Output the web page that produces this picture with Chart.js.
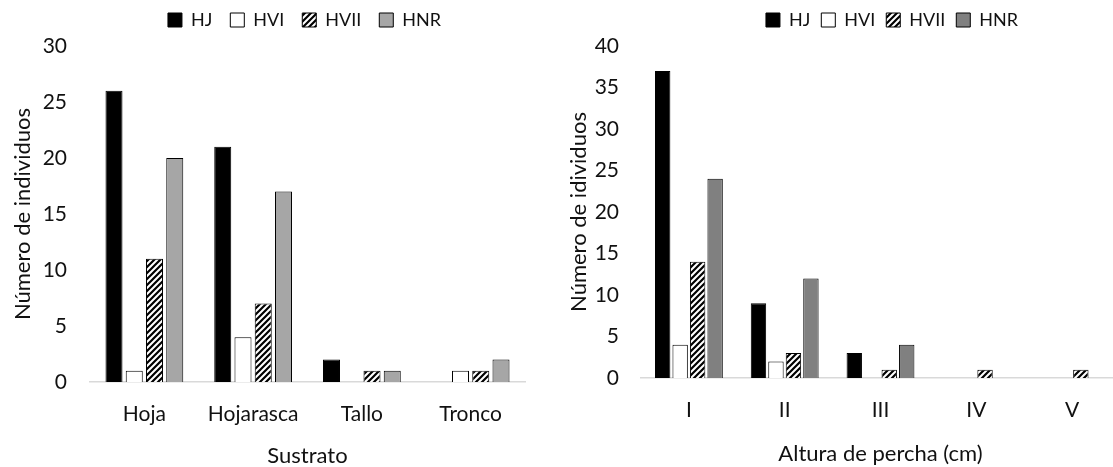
<!DOCTYPE html>
<html>
<head>
<meta charset="utf-8">
<script src="https://cdn.jsdelivr.net/npm/chart.js@4"></script>
<style>
  html, body { margin: 0; padding: 0; background: #fff; overflow: hidden; }
  body { width: 1113px; height: 467px; position: relative; }
  .box { position: absolute; top: 0; height: 467px; }
  #c1 { left: 0; width: 556px; }
  #c2 { left: 556px; width: 570px; }
</style>
</head>
<body>
<div class="box" id="c1"><canvas id="g1"></canvas></div>
<div class="box" id="c2"><canvas id="g2"></canvas></div>
<script>
// datos
const series = ['HJ', 'HVI', 'HVII', 'HNR'];

const sustrato = ['Hoja', 'Hojarasca', 'Tallo', 'Tronco'];
const hjSustrato = [26, 21, 2, 0];
const hviSustrato = [1, 4, 0, 1];
const hviiSustrato = [11, 7, 1, 1];
const hnrSustrato = [20, 17, 1, 2];
const ticksSustrato = [0, 5, 10, 15, 20, 25, 30];

const altura = ['I', 'II', 'III', 'IV', 'V'];
const hjAltura = [37, 9, 3, 0, 0];
const hviAltura = [4, 2, 0, 0, 0];
const hviiAltura = [14, 3, 1, 1, 1];
const hnrAltura = [24, 12, 4, 0, 0];
const ticksAltura = [0, 5, 10, 15, 20, 25, 30, 35, 40];

const FONT = 'Lato';
const TXT = '#111';

// rayado diagonal para HVII
function rayas() {
    const c = document.createElement('canvas');
    c.width = 6; c.height = 6;
    const p = c.getContext('2d');
    p.fillStyle = '#fff';
    p.fillRect(0, 0, 6, 6);
    p.strokeStyle = '#000';
    p.lineWidth = 2.2;
    p.beginPath();
    p.moveTo(-1, 7); p.lineTo(7, -1);
    p.moveTo(-4, 4); p.lineTo(4, -4);
    p.moveTo(2, 10); p.lineTo(10, 2);
    p.stroke();
    return p.createPattern(c, 'repeat');
}

function borde(ctx) {
    return ctx.raw === 0 ? 0 : 1;
}

// mueve la leyenda
const moverLeyenda = {
    id: 'moverLeyenda',
    afterLayout(chart, args, o) {
        const lg = chart.legend;
        if (!lg) return;
        lg.left += o.dx || 0;
        lg.right += o.dx || 0;
        lg.top += o.dy || 0;
        lg.bottom += o.dy || 0;
    }
};

function grafica(id, cats, datos, gris, ticks, ymax, tituloY, tituloX, opts) {
    const colores = ['#000', '#fff', rayas(), gris];
    const ctx = document.getElementById(id).getContext('2d');
    return new Chart(ctx, {
        type: 'bar',
        plugins: [moverLeyenda],
        data: {
            labels: cats,
            datasets: series.map((s, i) => ({
                label: s,
                data: datos[i],
                backgroundColor: colores[i],
                borderColor: '#000',
                borderWidth: borde,
                borderSkipped: 'bottom',
                categoryPercentage: opts.catPct,
                barPercentage: opts.barPct
            }))
        },
        options: {
            responsive: true,
            maintainAspectRatio: false,
            animation: false,
            layout: { padding: opts.padding },
            plugins: {
                tooltip: { enabled: false },
                moverLeyenda: { dx: opts.dx, dy: -7 },
                legend: {
                    position: 'top',
                    labels: {
                        font: { family: FONT, size: 18 },
                        color: TXT,
                        boxWidth: 14,
                        boxHeight: 14,
                        padding: opts.legPad,
                        generateLabels: function (chart) {
                            return chart.data.datasets.map((d, i) => ({
                                text: d.label,
                                fillStyle: d.backgroundColor,
                                strokeStyle: '#000',
                                lineWidth: 1,
                                fontColor: TXT,
                                datasetIndex: i
                            }));
                        }
                    }
                }
            },
            scales: {
                x: {
                    grid: { display: true, drawOnChartArea: false, drawTicks: false, color: 'rgba(0,0,0,0)' },
                    border: { display: true, color: '#d9d9d9', width: 1.5 },
                    ticks: { font: { family: FONT, size: 21 }, color: TXT, padding: 20 },
                    title: { display: true, text: tituloX, font: { family: FONT, size: 22 }, color: TXT, padding: { top: 8, bottom: opts.tituloAbajo } },
                    afterFit: function (s) { s.height = opts.xh; }
                },
                y: {
                    min: 0,
                    max: ymax,
                    afterBuildTicks: function (s) { s.ticks = ticks.map(v => ({ value: v })); },
                    grid: { display: false },
                    border: { display: false },
                    ticks: { font: { family: FONT, size: 21 }, color: TXT, padding: opts.tickPad },
                    title: { display: true, text: tituloY, font: { family: FONT, size: 22 }, color: TXT, padding: 0 },
                    afterFit: function (s) { s.width = opts.yw; s.paddingTop = opts.top; }
                }
            }
        }
    });
}

grafica('g1', sustrato, [hjSustrato, hviSustrato, hviiSustrato, hnrSustrato], '#a6a6a6',
    ticksSustrato, 30, 'Número de individuos', 'Sustrato',
    { catPct: 0.745, barPct: 0.84, legPad: 18, dx: 37, yw: 80, xh: 85, top: 46, tickPad: 15, tituloAbajo: -2,
      padding: { left: 10, right: 31, top: 0, bottom: 0 } });

grafica('g2', altura, [hjAltura, hviAltura, hviiAltura, hnrAltura], '#808080',
    ticksAltura, 40, 'Número de idividuos', 'Altura de percha (cm)',
    { catPct: 0.73, barPct: 0.88, legPad: 11, dx: 49, yw: 75, xh: 89, top: 46, tickPad: 14, tituloAbajo: 0,
      padding: { left: 10, right: 6, top: 0, bottom: 0 } });
</script>
</body>
</html>
